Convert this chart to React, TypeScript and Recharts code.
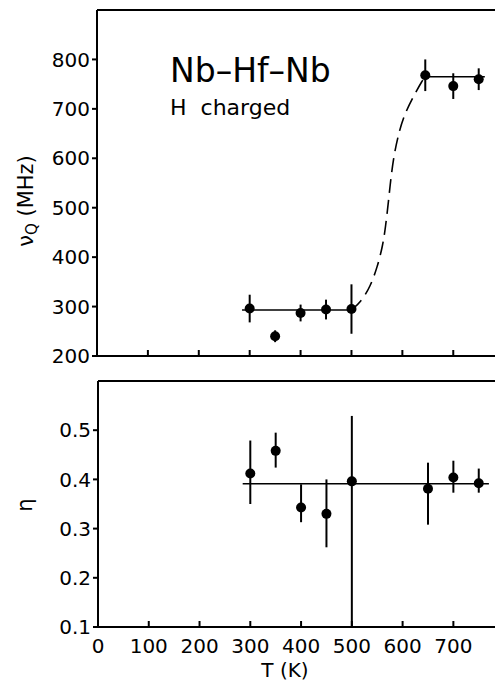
import { ComposedChart, ErrorBar, Line, ReferenceLine, Scatter, XAxis, YAxis } from "recharts";

// upper panel: quadrupole frequency
const tempTop = [300, 350, 400, 450, 500, 645, 700, 750];
const nuQ = [296, 240, 287, 294, 295, 768, 746, 760];
const nuQErr = [28, 12, 17, 20, 50, 32, 26, 22];

const lowFitT = [285, 500];
const lowFitV = [293, 293];
const highFitT = [645, 762];
const highFitV = [765, 765];
const stepT = [500, 518, 537, 551, 561, 567, 573, 577, 583, 591, 602, 620, 640, 645];
const stepV = [293, 309, 340, 381, 421, 461, 516, 556, 603, 643, 684, 722, 759, 765];

// lower panel: asymmetry parameter
const tempBot = [300, 350, 400, 450, 500, 650, 700, 750];
const eta = [0.412, 0.458, 0.343, 0.33, 0.396, 0.381, 0.404, 0.392];
const etaErrLow = [0.062, 0.034, 0.03, 0.068, 0.296, 0.073, 0.031, 0.019];
const etaErrHigh = [0.067, 0.037, 0.047, 0.07, 0.133, 0.053, 0.034, 0.03];
const etaFitT = [285, 770];
const etaFitV = [0.391, 0.391];

const xTicks = [0, 100, 200, 300, 400, 500, 600, 700];
const topYTicks = [200, 300, 400, 500, 600, 700, 800];
const botYTicks = [0.1, 0.2, 0.3, 0.4, 0.5];

const FONT = "'DejaVu Sans', sans-serif";
const tickStyle = { fontSize: 20, fill: "#000", fontFamily: FONT };

const zip = (t: number[], v: number[]) => t.map((T, i) => ({ T, v: v[i] }));

const topPoints = tempTop.map((T, i) => ({ T, v: nuQ[i], err: nuQErr[i] }));
const botPoints = tempBot.map((T, i) => ({ T, v: eta[i], err: [etaErrLow[i], etaErrHigh[i]] }));

const Dot = (p: any) => <circle cx={p.cx} cy={p.cy} r={5} fill="#000" />;

// tick marks drawn inward, optional label below the axis
const InTick = (withLabel: boolean) => (p: any) => (
  <g>
    <line x1={p.x} x2={p.x} y1={p.y} y2={p.y - 6} stroke="#000" strokeWidth={2} />
    {withLabel && (
      <text x={p.x} y={p.y + 26} textAnchor="middle" {...tickStyle}>
        {p.payload.value}
      </text>
    )}
  </g>
);

export default function App() {
  return (
    <div style={{ position: "absolute", left: 0, top: 0, width: 495, height: 684, background: "#fff" }}>
      <div style={{ position: "absolute", left: 0, top: 0 }}>
        <ComposedChart width={495} height={370} margin={{ top: 10, right: 0, bottom: 0, left: 0 }}>
          <XAxis
            type="number"
            dataKey="T"
            domain={[0, 782]}
            ticks={xTicks}
            height={14}
            axisLine={{ stroke: "#000", strokeWidth: 2 }}
            tickLine={false}
            tickSize={0}
            tickMargin={0}
            tick={InTick(false)}
            allowDataOverflow
          />
          <YAxis
            type="number"
            dataKey="v"
            domain={[200, 900]}
            ticks={topYTicks}
            width={97}
            axisLine={{ stroke: "#000", strokeWidth: 2 }}
            tickLine={{ stroke: "#000", strokeWidth: 2 }}
            tickSize={5}
            tick={tickStyle}
            allowDataOverflow
          />
          <ReferenceLine y={900} stroke="#000" strokeWidth={2} />
          <Line data={zip(lowFitT, lowFitV)} dataKey="v" stroke="#000" strokeWidth={1.5} dot={false} isAnimationActive={false} />
          <Line data={zip(highFitT, highFitV)} dataKey="v" stroke="#000" strokeWidth={1.5} dot={false} isAnimationActive={false} />
          <Line
            data={zip(stepT, stepV)}
            dataKey="v"
            type="basis"
            stroke="#000"
            strokeWidth={1.6}
            strokeDasharray="14 7"
            dot={false}
            isAnimationActive={false}
          />
          <Scatter data={topPoints} dataKey="v" shape={Dot} isAnimationActive={false}>
            <ErrorBar dataKey="err" direction="y" width={0} stroke="#000" strokeWidth={2} isAnimationActive={false} />
          </Scatter>
        </ComposedChart>
      </div>

      <div style={{ position: "absolute", left: 0, top: 370 }}>
        <ComposedChart width={495} height={314} margin={{ top: 11, right: 0, bottom: 0, left: 0 }}>
          <XAxis
            type="number"
            dataKey="T"
            domain={[0, 782]}
            ticks={xTicks}
            height={57}
            axisLine={{ stroke: "#000", strokeWidth: 2 }}
            tickLine={false}
            tickSize={0}
            tickMargin={0}
            tick={InTick(true)}
            allowDataOverflow
          />
          <YAxis
            type="number"
            dataKey="v"
            domain={[0.1, 0.6]}
            ticks={botYTicks}
            width={98}
            axisLine={{ stroke: "#000", strokeWidth: 2 }}
            tickLine={{ stroke: "#000", strokeWidth: 2 }}
            tickSize={5}
            tick={tickStyle}
            allowDataOverflow
          />
          <ReferenceLine y={0.6} stroke="#000" strokeWidth={2} />
          <Line data={zip(etaFitT, etaFitV)} dataKey="v" stroke="#000" strokeWidth={1.5} dot={false} isAnimationActive={false} />
          <Scatter data={botPoints} dataKey="v" shape={Dot} isAnimationActive={false}>
            <ErrorBar dataKey="err" direction="y" width={0} stroke="#000" strokeWidth={2} isAnimationActive={false} />
          </Scatter>
        </ComposedChart>
      </div>

      <svg width={495} height={684} style={{ position: "absolute", left: 0, top: 0, pointerEvents: "none" }}>
        <g fontFamily={FONT} fill="#000">
          <text x={170} y={82} fontSize={33}>Nb–Hf–Nb</text>
          <text x={170} y={115} fontSize={22} style={{ whiteSpace: "pre" }}>
            H  charged
          </text>
          <text x={33} y={201} fontSize={21} textAnchor="middle" transform="rotate(-90 33 201)" style={{ whiteSpace: "pre" }}>
            ν<tspan fontSize={15} dy={4}>Q</tspan>
            <tspan dy={-4}> (MHz)</tspan>
          </text>
          <text x={32} y={505} fontSize={21} textAnchor="middle" transform="rotate(-90 32 505)">
            η
          </text>
          <text x={285} y={677} fontSize={20} textAnchor="middle">
            T (K)
          </text>
        </g>
      </svg>
    </div>
  );
}
